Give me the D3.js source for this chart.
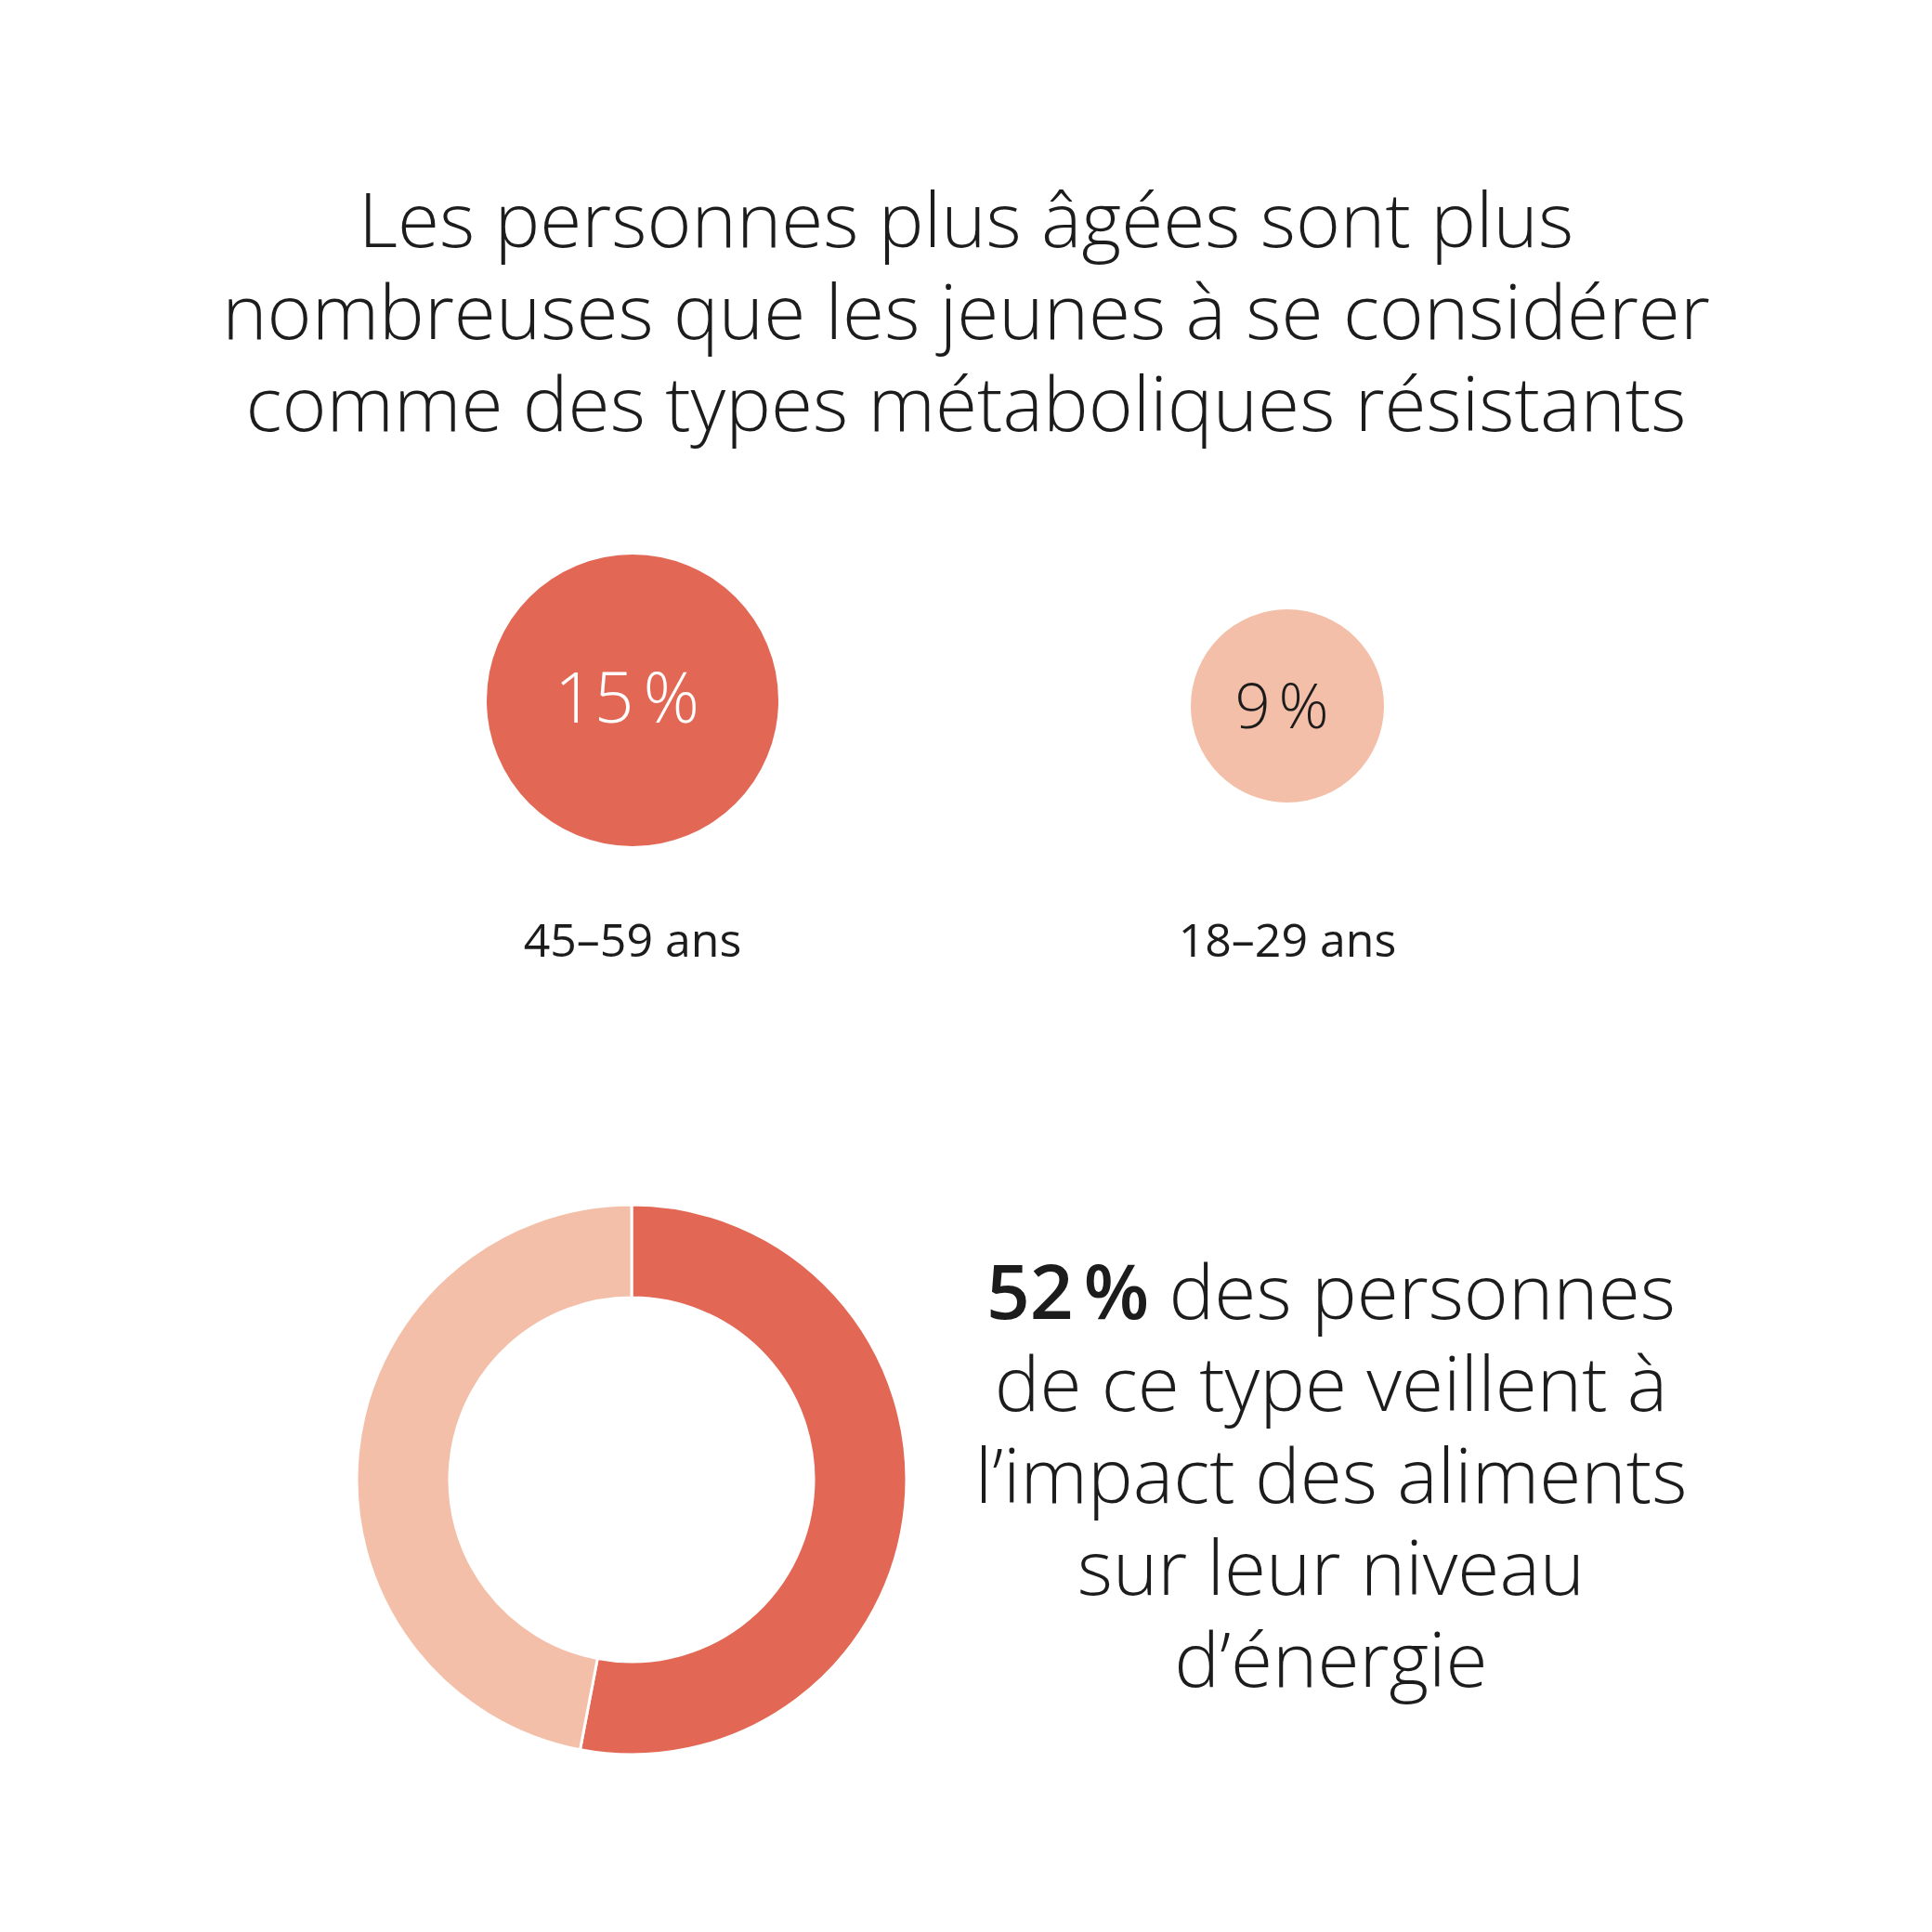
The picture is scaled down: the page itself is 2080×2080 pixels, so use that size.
<!DOCTYPE html>
<html>
<head>
<meta charset="utf-8">
<script src="https://cdn.jsdelivr.net/npm/d3@7"></script>
<style>
  html, body { margin: 0; padding: 0; background: #ffffff; }
  svg { display: block; font-family: "Open Sans", sans-serif; }
</style>
</head>
<body>
<svg id="chart" width="2080" height="2080"></svg>
<script>
// ---- data ----
const titleLines = [
  "Les personnes plus âgées sont plus",
  "nombreuses que les jeunes à se considérer",
  "comme des types métaboliques résistants"
];
const ageGroups = ["45–59 ans", "18–29 ans"];
const ageShares = [15, 9];
const donutCategories = ["veillent à l’impact", "autres"];
const donutValues = [53, 47];
const calloutValue = "52\u202F%";
const calloutLines = [
  " des personnes",
  "de ce type veillent à",
  "l’impact des aliments",
  "sur leur niveau",
  "d’énergie"
];

// ---- styles / layout ----
const RED = "#E26855";
const PEACH = "#F4BFA9";
const INK = "#1c1c1c";
const bubbleCY = { "45–59 ans": 754, "18–29 ans": 760 };

const svg = d3.select("#chart");

// Title
svg.append("text")
  .attr("text-anchor", "middle")
  .attr("font-size", 82)
  .attr("font-weight", 300)
  .attr("fill", INK)
  .selectAll("tspan")
  .data(titleLines)
  .join("tspan")
  .attr("x", 1040)
  .attr("y", (d, i) => 266 + i * 99)
  .text(d => d);

// Bubbles
const x = d3.scalePoint().domain(ageGroups).range([681, 1386]);
const r = d3.scaleLinear().domain([9, 15]).range([104, 157]);
const fill = d3.scaleOrdinal().domain(ageGroups).range([RED, PEACH]);
const labelFill = d3.scaleOrdinal().domain(ageGroups).range(["#ffffff", INK]);

const bubbles = ageGroups.map((g, i) => ({ group: g, value: ageShares[i] }));

const bg = svg.append("g").selectAll("g")
  .data(bubbles)
  .join("g");

bg.append("circle")
  .attr("cx", d => x(d.group))
  .attr("cy", d => bubbleCY[d.group])
  .attr("r", d => r(d.value))
  .attr("fill", d => fill(d.group));

bg.append("text")
  .attr("x", d => x(d.group) - 6)
  .attr("y", d => bubbleCY[d.group] + 24)
  .attr("text-anchor", "middle")
  .attr("font-size", d => d.value === 15 ? 75 : 67)
  .attr("font-weight", 300)
  .attr("fill", d => labelFill(d.group))
  .text(d => d.value + "\u202F%");

bg.append("text")
  .attr("x", d => x(d.group))
  .attr("y", 1030)
  .attr("text-anchor", "middle")
  .attr("font-size", 50)
  .attr("font-weight", 400)
  .attr("fill", INK)
  .text(d => d.group);

// Donut
const donutData = donutCategories.map((c, i) => ({ cat: c, value: donutValues[i] }));
const pie = d3.pie().value(d => d.value).sort(null);
const arc = d3.arc().innerRadius(196).outerRadius(296);
const donutColor = d3.scaleOrdinal().domain(donutCategories).range([RED, PEACH]);

svg.append("g")
  .attr("transform", "translate(680,1593)")
  .selectAll("path")
  .data(pie(donutData))
  .join("path")
  .attr("d", arc)
  .attr("fill", d => donutColor(d.data.cat))
  .attr("stroke", "#ffffff")
  .attr("stroke-width", 3);

// Callout text
const callout = svg.append("text")
  .attr("text-anchor", "middle")
  .attr("font-size", 82)
  .attr("font-weight", 300)
  .attr("fill", INK);

const first = callout.append("tspan")
  .attr("x", 1433)
  .attr("y", 1420);
first.append("tspan").attr("font-weight", 600).text(calloutValue);
first.append("tspan").text(calloutLines[0]);

callout.selectAll("tspan.l")
  .data(calloutLines.slice(1))
  .join("tspan")
  .attr("class", "l")
  .attr("x", 1433)
  .attr("y", (d, i) => 1420 + (i + 1) * 99)
  .text(d => d);
</script>
</body>
</html>
